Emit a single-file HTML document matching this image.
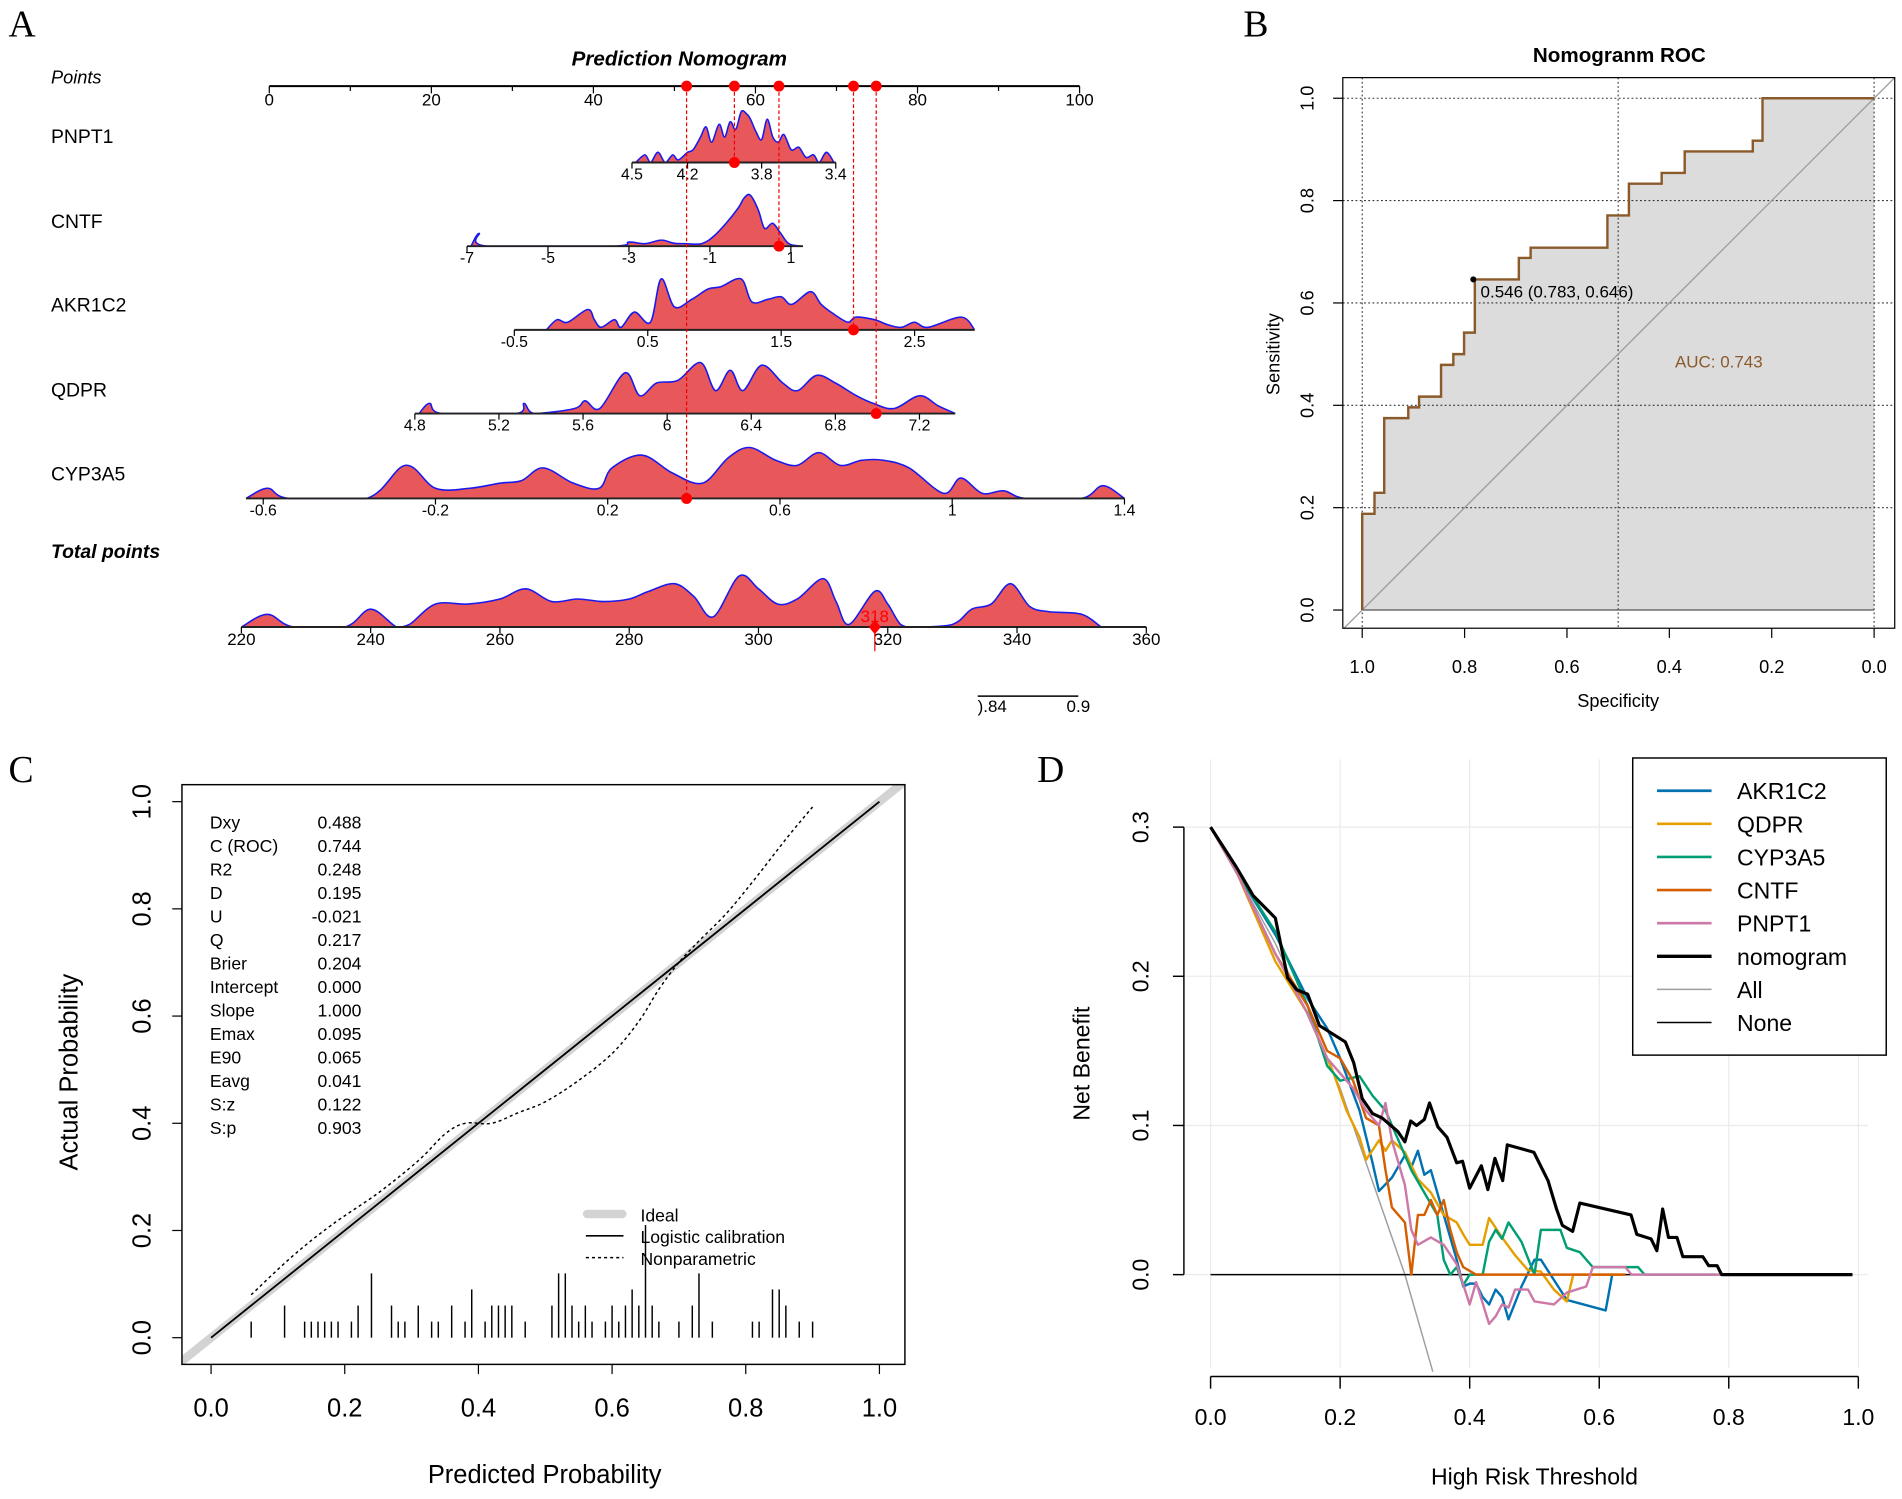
<!DOCTYPE html>
<html><head><meta charset="utf-8">
<style>
html,body{margin:0;padding:0;background:#fff;}
svg{display:block;}
text{font-family:"Liberation Sans",Arial,sans-serif;}
text.serif{font-family:"Liberation Serif","DejaVu Serif",serif;}
</style></head>
<body>
<svg id="fig" xmlns="http://www.w3.org/2000/svg" width="1902" height="1499" viewBox="0 0 1568 1236" preserveAspectRatio="none">
<defs>
<clipPath id="clipC"><rect x="150" y="647" width="596" height="478"/></clipPath>
<clipPath id="clipB"><rect x="1107" y="64" width="455" height="454"/></clipPath>
</defs>
<rect width="1568" height="1236" fill="#fff"/>
<g id="gA"></g>
<g id="gB"></g>
<g id="gC"></g>
<g id="gD"></g>
</svg>
<script>
// ---------- Panel A data ----------
const pointTicks = [0,10,20,30,40,50,60,70,80,90,100];
const pointLabels = [0,20,40,60,80,100];
const selectedPoints = [51.5,57.4,62.9,72.1,74.9];
const rowNames = ["PNPT1","CNTF","AKR1C2","QDPR","CYP3A5"];
const pnptTicks = [4.5,4.2,3.8,3.4];
const pnptX = [4.48,4.43,4.4,4.36,4.32,4.28,4.25,4.2,4.17,4.13,4.1,4.07,4.03,4.0,3.97,3.94,3.91,3.88,3.86,3.83,3.8,3.77,3.74,3.71,3.68,3.64,3.6,3.56,3.52,3.49,3.45,3.41];
const pnptY = [0,0.15,0,0.2,0,0.15,0.05,0.2,0.25,0.5,0.7,0.4,0.75,0.5,0.8,0.65,1.0,0.95,0.85,0.6,0.45,0.85,0.5,0.4,0.55,0.25,0.3,0.1,0.15,0,0.2,0];
const cntfTicks = [-7,-5,-3,-1,1];
const cntfX = [-6.9,-6.7,-6.5,-3.4,-3.0,-2.6,-2.2,-1.9,-1.6,-1.2,-0.9,-0.6,-0.3,-0.15,0.0,0.2,0.35,0.55,0.75,0.95,1.25];
const cntfY = [0,0.25,0,0,0.08,0.05,0.12,0.06,0.05,0.05,0.2,0.45,0.75,0.95,1.0,0.7,0.35,0.45,0.25,0.05,0];
const akrTicks = [-0.5,0.5,1.5,2.5];
const akrX = [-0.26,-0.18,-0.1,0.05,0.1,0.15,0.25,0.3,0.4,0.52,0.6,0.7,0.83,0.95,1.05,1.2,1.28,1.4,1.5,1.58,1.72,1.8,1.9,2.0,2.06,2.2,2.3,2.4,2.5,2.6,2.85,2.95];
const akrY = [0,0.2,0.15,0.4,0.2,0.05,0.2,0.05,0.35,0.15,1.0,0.45,0.6,0.8,0.85,1.0,0.55,0.6,0.65,0.5,0.75,0.5,0.3,0.15,0.25,0.2,0.1,0.05,0.15,0.05,0.25,0];
const qdprTicks = [4.8,5.2,5.6,6,6.4,6.8,7.2];
const qdprX = [4.82,4.87,4.93,5.28,5.32,5.37,5.56,5.61,5.68,5.8,5.87,5.95,6.05,6.16,6.23,6.3,6.36,6.45,6.55,6.62,6.71,6.8,6.9,6.98,7.08,7.2,7.29,7.37];
const qdprY = [0,0.2,0,0,0.2,0,0.1,0.25,0.1,0.8,0.35,0.6,0.65,1.0,0.45,0.85,0.45,0.95,0.6,0.45,0.75,0.6,0.35,0.2,0.1,0.35,0.15,0];
const cypTicks = [-0.6,-0.2,0.2,0.6,1,1.4];
const cypX = [-0.64,-0.59,-0.54,-0.36,-0.27,-0.2,-0.12,-0.05,0.0,0.05,0.12,0.18,0.21,0.28,0.35,0.42,0.48,0.53,0.59,0.64,0.69,0.74,0.79,0.84,0.9,0.98,1.02,1.07,1.12,1.17,1.3,1.35,1.4];
const cypY = [0,0.2,0,0,0.65,0.2,0.2,0.3,0.35,0.6,0.3,0.2,0.6,0.85,0.5,0.3,0.8,1.0,0.75,0.65,0.9,0.65,0.75,0.75,0.6,0.1,0.4,0.1,0.15,0,0,0.25,0];
const totalTicks = [220,240,260,280,300,320,340,360];
const totalX = [220,224,228,236,240,244,246,250,255,260,264,268,272,276,280,283,287,290,293,297,300,303,306,310,312,314,318,320,322,324,330,333,336,339,342,345,350,353];
const totalY = [0,0.25,0,0,0.35,0,0.05,0.45,0.45,0.55,0.75,0.5,0.55,0.5,0.55,0.7,0.85,0.6,0.2,1.0,0.75,0.45,0.55,0.95,0.5,0.05,0.7,0.45,0.05,0,0.05,0.35,0.45,0.85,0.4,0.3,0.25,0];
const totalScore = [318];
const probTicks = [0.84,0.9];

// ---------- Panel B data ----------
const rocSpec = [1.0,1.0,0.976,0.976,0.957,0.957,0.91,0.91,0.889,0.889,0.846,0.846,0.822,0.822,0.801,0.801,0.78,0.78,0.694,0.694,0.671,0.671,0.521,0.521,0.479,0.479,0.415,0.415,0.37,0.37,0.237,0.237,0.218,0.218,0.0];
const rocSens = [0.0,0.188,0.188,0.229,0.229,0.375,0.375,0.396,0.396,0.417,0.417,0.479,0.479,0.5,0.5,0.542,0.542,0.646,0.646,0.688,0.688,0.708,0.708,0.771,0.771,0.833,0.833,0.854,0.854,0.896,0.896,0.917,0.917,1.0,1.0];
const rocTicks = [0,0.2,0.4,0.6,0.8,1.0];
const bestPoint = [0.783,0.646];

// ---------- Panel C data ----------
const calTicks = [0,0.2,0.4,0.6,0.8,1.0];
const npX = [0.06,0.12,0.18,0.25,0.31,0.35,0.38,0.42,0.46,0.5,0.55,0.6,0.64,0.67,0.7,0.73,0.77,0.81,0.86,0.9];
const npY = [0.08,0.15,0.21,0.27,0.33,0.38,0.40,0.40,0.42,0.44,0.48,0.53,0.59,0.65,0.70,0.74,0.79,0.85,0.93,0.99];
const rugX = [0.06,0.11,0.14,0.15,0.16,0.17,0.18,0.19,0.21,0.22,0.24,0.27,0.28,0.29,0.31,0.33,0.34,0.36,0.38,0.39,0.41,0.42,0.43,0.44,0.45,0.47,0.51,0.52,0.53,0.54,0.55,0.56,0.57,0.59,0.6,0.61,0.62,0.63,0.64,0.65,0.66,0.67,0.7,0.72,0.73,0.75,0.81,0.82,0.84,0.85,0.86,0.88,0.9];
const rugH = [0.03,0.06,0.03,0.03,0.03,0.03,0.03,0.03,0.03,0.06,0.12,0.06,0.03,0.03,0.06,0.03,0.03,0.06,0.03,0.09,0.03,0.06,0.06,0.06,0.06,0.03,0.06,0.12,0.12,0.06,0.03,0.06,0.03,0.03,0.06,0.03,0.06,0.09,0.06,0.21,0.06,0.03,0.03,0.06,0.12,0.03,0.03,0.03,0.09,0.09,0.06,0.03,0.03];
const statNames = ["Dxy","C (ROC)","R2","D","U","Q","Brier","Intercept","Slope","Emax","E90","Eavg","S:z","S:p"];
const statVals = ["0.488","0.744","0.248","0.195","-0.021","0.217","0.204","0.000","1.000","0.095","0.065","0.041","0.122","0.903"];

// ---------- Panel D data ----------
const dcaXTicks = [0,0.2,0.4,0.6,0.8,1.0];
const dcaYTicks = [0,0.1,0.2,0.3];
const nomoT = [0,0.04,0.066,0.1,0.119,0.133,0.15,0.168,0.208,0.221,0.234,0.25,0.265,0.278,0.289,0.3,0.309,0.318,0.33,0.338,0.351,0.365,0.38,0.389,0.4,0.418,0.428,0.439,0.451,0.458,0.499,0.521,0.534,0.543,0.559,0.57,0.649,0.658,0.68,0.689,0.698,0.707,0.72,0.729,0.76,0.769,0.782,0.789,0.991];
const nomoNB = [0.3,0.273,0.254,0.239,0.199,0.191,0.188,0.167,0.156,0.142,0.118,0.108,0.105,0.1,0.096,0.089,0.103,0.1,0.104,0.115,0.099,0.092,0.075,0.076,0.058,0.073,0.057,0.078,0.063,0.087,0.082,0.063,0.044,0.033,0.029,0.048,0.04,0.027,0.024,0.016,0.044,0.025,0.025,0.012,0.012,0.006,0.006,0,0];
const akrT = [0,0.04,0.1,0.15,0.18,0.2,0.23,0.25,0.26,0.28,0.3,0.31,0.32,0.33,0.34,0.36,0.38,0.39,0.4,0.41,0.42,0.43,0.44,0.45,0.46,0.48,0.5,0.51,0.55,0.61,0.62];
const akrNB = [0.3,0.27,0.228,0.185,0.165,0.145,0.11,0.075,0.056,0.065,0.08,0.072,0.083,0.067,0.07,0.04,0.01,-0.008,-0.006,-0.006,-0.015,-0.02,-0.01,-0.015,-0.03,-0.008,0.01,0.01,-0.017,-0.024,0];
const qdprT = [0,0.04,0.1,0.15,0.19,0.21,0.23,0.24,0.26,0.27,0.28,0.3,0.32,0.34,0.36,0.38,0.39,0.4,0.42,0.43,0.45,0.47,0.49,0.51,0.53,0.55,0.56,0.64];
const qdprNB = [0.3,0.27,0.21,0.175,0.135,0.11,0.092,0.077,0.09,0.083,0.09,0.082,0.064,0.055,0.04,0.035,0.027,0.02,0.02,0.038,0.025,0.013,0.003,0.002,-0.01,-0.018,0,0];
const cypT = [0,0.04,0.1,0.15,0.18,0.2,0.23,0.25,0.27,0.29,0.31,0.33,0.35,0.36,0.37,0.38,0.39,0.4,0.42,0.43,0.44,0.45,0.46,0.48,0.5,0.51,0.54,0.55,0.57,0.59,0.63,0.66,0.67,0.78];
const cypNB = [0.3,0.27,0.23,0.18,0.14,0.13,0.133,0.12,0.11,0.09,0.07,0.055,0.04,0.01,0,0.005,-0.007,0,0,0.022,0.03,0.024,0.035,0.022,0,0.03,0.03,0.018,0.015,0.005,0.005,0.005,0,0];
const cntfT = [0,0.04,0.1,0.15,0.18,0.2,0.22,0.24,0.26,0.27,0.28,0.3,0.31,0.32,0.33,0.34,0.35,0.36,0.37,0.38,0.39,0.41,0.64];
const cntfNB = [0.3,0.27,0.215,0.18,0.15,0.145,0.13,0.105,0.1,0.07,0.045,0.035,0,0.04,0.04,0.05,0.04,0.05,0.03,0.015,0.005,0,0];
const pnptT = [0,0.04,0.1,0.15,0.18,0.2,0.22,0.24,0.26,0.27,0.28,0.3,0.31,0.32,0.34,0.36,0.38,0.4,0.41,0.43,0.44,0.45,0.46,0.47,0.49,0.5,0.53,0.55,0.58,0.59,0.64,0.65,0.79];
const pnptNB = [0.3,0.27,0.215,0.175,0.145,0.135,0.125,0.11,0.1,0.115,0.09,0.06,0.03,0.02,0.025,0.02,0.007,-0.02,-0.005,-0.033,-0.028,-0.02,-0.022,-0.01,-0.01,-0.018,-0.02,-0.012,-0.008,0.005,0.005,0,0];
const allT = [0,0.1,0.2,0.3,0.343];
const allNB = [0.3,0.222,0.125,0,-0.065];
const noneT = [0,0.99];
const noneNB = [0,0];
const legendNames = ["AKR1C2","QDPR","CYP3A5","CNTF","PNPT1","nomogram","All","None"];

// ---------- helpers ----------
const NS = "http://www.w3.org/2000/svg";
function mk(parent, tag, attrs, txt){
  const e = document.createElementNS(NS, tag);
  for (const k in attrs) e.setAttribute(k, attrs[k]);
  if (txt !== undefined) e.textContent = txt;
  parent.appendChild(e);
  return e;
}
function lin(d0,d1,r0,r1){ return v => r0 + (v-d0)*(r1-r0)/(d1-d0); }
function smoothPath(pts, maxY){
  const cl = y => (maxY!==undefined ? Math.min(y,maxY) : y);
  let d = "M"+pts[0][0].toFixed(1)+","+pts[0][1].toFixed(1);
  for (let i=0;i<pts.length-1;i++){
    const p0=pts[Math.max(0,i-1)], p1=pts[i], p2=pts[i+1], p3=pts[Math.min(pts.length-1,i+2)];
    const c1x=p1[0]+(p2[0]-p0[0])/6, c1y=cl(p1[1]+(p2[1]-p0[1])/6);
    const c2x=p2[0]-(p3[0]-p1[0])/6, c2y=cl(p2[1]-(p3[1]-p1[1])/6);
    d += " C"+c1x.toFixed(1)+","+c1y.toFixed(1)+" "+c2x.toFixed(1)+","+c2y.toFixed(1)+" "+p2[0].toFixed(1)+","+p2[1].toFixed(1);
  }
  return d;
}

// ================= PANEL A =================
const gA = document.getElementById("gA");
let t;
t = mk(gA,"text",{x:7,y:30,"font-size":31,"class":"serif"},"A");


t = mk(gA,"text",{x:560,y:54,"font-size":17,"font-weight":"bold","font-style":"italic","text-anchor":"middle"},"Prediction Nomogram");



const ptX = lin(0,100,222,890);
const axisY = 71;
t = mk(gA,"text",{x:42,y:69,"font-size":15,"font-style":"italic"},"Points");


let ln = mk(gA,"line",{x1:ptX(0),x2:ptX(100),y1:axisY,y2:axisY,stroke:"#000","stroke-width":1.6});


pointTicks.forEach(v=>{
  const e = mk(gA,"line",{x1:ptX(v),x2:ptX(v),y1:axisY,y2:axisY+(pointLabels.includes(v)?6:4),stroke:"#000","stroke-width":1});
  
  
});
pointLabels.forEach(v=>{
  const e = mk(gA,"text",{x:ptX(v),y:axisY+16,"font-size":14,"text-anchor":"middle"},String(v));
  
  
});

const rows = [
  {name:"PNPT1", ty:112, base:134, ticks:pnptTicks, xs:pnptX, ys:pnptY, d0:4.5, d1:3.4, r0:521, r1:689, a0:4.5, a1:3.4},
  {name:"CNTF", ty:182, base:203, ticks:cntfTicks, xs:cntfX, ys:cntfY, d0:-7, d1:1, r0:385, r1:652, a0:-7, a1:1.3},
  {name:"AKR1C2", ty:251, base:272, ticks:akrTicks, xs:akrX, ys:akrY, d0:-0.5, d1:2.5, r0:424, r1:754, a0:-0.5, a1:2.95},
  {name:"QDPR", ty:321, base:341, ticks:qdprTicks, xs:qdprX, ys:qdprY, d0:4.8, d1:7.2, r0:342, r1:758, a0:4.8, a1:7.37},
  {name:"CYP3A5", ty:390, base:411, ticks:cypTicks, xs:cypX, ys:cypY, d0:-0.6, d1:1.4, r0:217, r1:927, a0:-0.64, a1:1.4},
];
const peakH = 42;
function drawDensity(g, xs, ys, sx, base, nm){
  const pts = xs.map((v,i)=>[sx(v), base - ys[i]*peakH]);
  const curve = smoothPath(pts, base);
  let d = curve + " L"+pts[pts.length-1][0]+","+base+" L"+pts[0][0]+","+base+" Z";
  const p = mk(g,"path",{d:d,fill:"#E8575A",stroke:"none"});
  
  
  const o = mk(g,"path",{d:curve,fill:"none",stroke:"#1a1aee","stroke-width":1.3});
  
  
}
rows.forEach(r=>{
  const sx = lin(r.d0,r.d1,r.r0,r.r1);
  let e = mk(gA,"text",{x:42,y:r.ty+6,"font-size":16},r.name);
  
  
  drawDensity(gA, r.xs, r.ys, sx, r.base, r.name.toLowerCase());
  e = mk(gA,"line",{x1:sx(r.a0),x2:sx(r.a1),y1:r.base,y2:r.base,stroke:"#222","stroke-width":1.6});
  
  
  r.ticks.forEach(v=>{
    const tk = mk(gA,"line",{x1:sx(v),x2:sx(v),y1:r.base,y2:r.base+5,stroke:"#000","stroke-width":1});
    
    
    const tl = mk(gA,"text",{x:sx(v),y:r.base+14,"font-size":13,"text-anchor":"middle"},String(v));
    
    
  });
});
const rowDotPt = [selectedPoints[1], selectedPoints[2], selectedPoints[3], selectedPoints[4], selectedPoints[0]];
rows.forEach((r,i)=>{
  const x = ptX(rowDotPt[i]);
  let e = mk(gA,"line",{x1:x,x2:x,y1:axisY,y2:r.base,stroke:"#e00","stroke-width":1,"stroke-dasharray":"3,2"});
  
  
  e = mk(gA,"circle",{cx:x,cy:r.base,r:4.5,fill:"#f00"});
  
  
});
selectedPoints.forEach(v=>{
  const e = mk(gA,"circle",{cx:ptX(v),cy:axisY,r:4.5,fill:"#f00"});
  
  
});
t = mk(gA,"text",{x:42,y:460,"font-size":16,"font-weight":"bold","font-style":"italic"},"Total points");


const tx = lin(220,360,199,945);
const tBase = 517;
drawDensity(gA, totalX, totalY, tx, tBase, 'total-points');
ln = mk(gA,"line",{x1:tx(220),x2:tx(360),y1:tBase,y2:tBase,stroke:"#222","stroke-width":1.6});


totalTicks.forEach(v=>{
  const tk = mk(gA,"line",{x1:tx(v),x2:tx(v),y1:tBase,y2:tBase+5,stroke:"#000","stroke-width":1});
  
  
  const tl = mk(gA,"text",{x:tx(v),y:tBase+15,"font-size":14,"text-anchor":"middle"},String(v));
  
  
});
totalScore.forEach(v=>{
  const x = tx(v);
  let e = mk(gA,"line",{x1:x,x2:x,y1:tBase-8,y2:537,stroke:"#e00","stroke-width":1});
  
  
  e = mk(gA,"path",{d:`M${x},${tBase-6} L${x+5},${tBase} L${x},${tBase+6} L${x-5},${tBase} Z`,fill:"#f00"});
  
  
  e = mk(gA,"text",{x:x,y:tBase-4,"font-size":14,fill:"#f00","text-anchor":"middle"},String(v));
  
  
});
const prX = lin(0.84,0.9,806,889);
ln = mk(gA,"line",{x1:prX(0.84),x2:prX(0.9),y1:574,y2:574,stroke:"#000","stroke-width":1.2});


probTicks.forEach((v,i)=>{
  const tl = mk(gA,"text",{x:prX(v)+(i==0?12:0),y:587,"font-size":14,"text-anchor":"middle"},i==0?").84":String(v));
  
  
});

// ================= PANEL B =================
const gB = document.getElementById("gB");
const bx = lin(1,0,1123,1545), by = lin(0,1,503,81);
t = mk(gB,"text",{x:1025,y:30,"font-size":31,"class":"serif"},"B");


t = mk(gB,"text",{x:1335,y:51,"font-size":17,"font-weight":"bold","text-anchor":"middle"},"Nomogranm ROC");


let polyPts = rocSpec.map((s,i)=>bx(s)+","+by(rocSens[i])).join(" ");
polyPts += " "+bx(0)+","+by(0)+" "+bx(1)+","+by(0);
let e = mk(gB,"polygon",{points:polyPts,fill:"#dcdcdc"});


rocTicks.forEach(v=>{
  if (v===0) return;
  const g1 = mk(gB,"line",{x1:1107,x2:1562,y1:by(v),y2:by(v),stroke:"#333","stroke-width":0.9,"stroke-dasharray":"1.5,2"});
  
  
});
[1,0.5,0].forEach(v=>{
  const g1 = mk(gB,"line",{x1:bx(v),x2:bx(v),y1:64,y2:518,stroke:"#333","stroke-width":0.9,"stroke-dasharray":"1.5,2"});
  
  
});
e = mk(gB,"line",{x1:bx(1),x2:bx(0),y1:by(0),y2:by(0),stroke:"#555","stroke-width":1});


e = mk(gB,"line",{x1:bx(1.04),x2:bx(-0.04),y1:by(-0.04),y2:by(1.04),stroke:"#999","stroke-width":1,"clip-path":"url(#clipB)"});


e = mk(gB,"polyline",{points:rocSpec.map((s,i)=>bx(s)+","+by(rocSens[i])).join(" "),fill:"none",stroke:"#8B5A2B","stroke-width":2});


e = mk(gB,"rect",{x:1107,y:64,width:455,height:454,fill:"none",stroke:"#000","stroke-width":1});


e = mk(gB,"circle",{cx:bx(bestPoint[0]),cy:by(bestPoint[1]),r:2.5,fill:"#000"});


e = mk(gB,"text",{x:bx(bestPoint[0])+6,y:by(bestPoint[1])+15,"font-size":14},"0.546 (0.783, 0.646)");


e = mk(gB,"text",{x:1417,y:303,"font-size":14,fill:"#8B5A2B","text-anchor":"middle"},"AUC: 0.743");


rocTicks.forEach(v=>{
  let k = mk(gB,"line",{x1:bx(v),x2:bx(v),y1:518,y2:526,stroke:"#000"});
  
  
  k = mk(gB,"text",{x:bx(v),y:555,"font-size":15,"text-anchor":"middle"},v.toFixed(1));
  
  
  k = mk(gB,"line",{x1:1107,x2:1099,y1:by(v),y2:by(v),stroke:"#000"});
  
  
  k = mk(gB,"text",{x:0,y:0,"font-size":15,"text-anchor":"middle",transform:`translate(1083,${by(v)}) rotate(-90)`},v.toFixed(1));
  
  
});
e = mk(gB,"text",{x:1334,y:583,"font-size":15,"text-anchor":"middle"},"Specificity");


e = mk(gB,"text",{x:0,y:0,"font-size":15,"text-anchor":"middle",transform:"translate(1055,292) rotate(-90)"},"Sensitivity");



// ================= PANEL C =================
const gC = document.getElementById("gC");
const cx = lin(0,1,174,725), cy = lin(0,1,1103,661);
t = mk(gC,"text",{x:7,y:645,"font-size":31,"class":"serif"},"C");


e = mk(gC,"line",{x1:cx(-0.1),y1:cy(-0.1),x2:cx(1.1),y2:cy(1.1),stroke:"#d3d3d3","stroke-width":7,"clip-path":"url(#clipC)"});


e = mk(gC,"line",{x1:cx(0),y1:cy(0),x2:cx(1),y2:cy(1),stroke:"#000","stroke-width":1.5});


e = mk(gC,"path",{d:smoothPath(npX.map((v,i)=>[cx(v),cy(npY[i])])),fill:"none",stroke:"#000","stroke-width":1.2,"stroke-dasharray":"2.5,2.5"});


rugX.forEach((v,i)=>{
  const r = mk(gC,"line",{x1:cx(v),x2:cx(v),y1:cy(0),y2:cy(rugH[i]),stroke:"#000","stroke-width":1.2});
  
  
});
e = mk(gC,"rect",{x:150,y:647,width:596,height:478,fill:"none",stroke:"#000","stroke-width":1.2});


statNames.forEach((n,i)=>{
  let s = mk(gC,"text",{x:173,y:683+i*19.4,"font-size":14.5},n);
  
  
  s = mk(gC,"text",{x:298,y:683+i*19.4,"font-size":14.5,"text-anchor":"end"},statVals[i]);
  
  
});
e = mk(gC,"line",{x1:484,x2:513,y1:1001,y2:1001,stroke:"#d3d3d3","stroke-width":7,"stroke-linecap":"round"});


e = mk(gC,"line",{x1:483,x2:514,y1:1019,y2:1019,stroke:"#000","stroke-width":1.3});


e = mk(gC,"line",{x1:483,x2:514,y1:1037,y2:1037,stroke:"#000","stroke-width":1.2,"stroke-dasharray":"2.5,2.5"});


[["Ideal",1007],["Logistic calibration",1025],["Nonparametric",1043]].forEach(a=>{
  const s = mk(gC,"text",{x:528,y:a[1],"font-size":14.5},a[0]);
  
  
});
calTicks.forEach(v=>{
  let k = mk(gC,"line",{x1:cx(v),x2:cx(v),y1:1125,y2:1133,stroke:"#000"});
  
  
  k = mk(gC,"text",{x:cx(v),y:1168,"font-size":21,"text-anchor":"middle"},v.toFixed(1));
  
  
  k = mk(gC,"line",{x1:150,x2:142,y1:cy(v),y2:cy(v),stroke:"#000"});
  
  
  k = mk(gC,"text",{x:0,y:0,"font-size":21,"text-anchor":"middle",transform:`translate(124,${cy(v)}) rotate(-90)`},v.toFixed(1));
  
  
});
e = mk(gC,"text",{x:449,y:1223,"font-size":21,"text-anchor":"middle"},"Predicted Probability");


e = mk(gC,"text",{x:0,y:0,"font-size":21,"text-anchor":"middle",transform:"translate(64,884) rotate(-90)"},"Actual Probability");



// ================= PANEL D =================
const gD = document.getElementById("gD");
const dx = lin(0,1,998,1532), dy = lin(0,0.3,1051,682);
t = mk(gD,"text",{x:855,y:645,"font-size":31,"class":"serif"},"D");


dcaXTicks.forEach(v=>{
  const g1 = mk(gD,"line",{x1:dx(v),x2:dx(v),y1:626,y2:1128,stroke:"#ebebeb","stroke-width":1});
  
  
});
dcaYTicks.forEach(v=>{
  const g1 = mk(gD,"line",{x1:977,x2:1540,y1:dy(v),y2:dy(v),stroke:"#ebebeb","stroke-width":1});
  
  
});
const series = [
  {n:"all",t:allT,v:allNB,c:"#9e9e9e",w:1.2},
  {n:"none",t:noneT,v:noneNB,c:"#000",w:1.2},
  {n:"akr1c2",t:akrT,v:akrNB,c:"#0072B2",w:2},
  {n:"qdpr",t:qdprT,v:qdprNB,c:"#E69F00",w:2},
  {n:"cyp3a5",t:cypT,v:cypNB,c:"#009E73",w:2},
  {n:"cntf",t:cntfT,v:cntfNB,c:"#D55E00",w:2},
  {n:"pnpt1",t:pnptT,v:pnptNB,c:"#CC79A7",w:2},
  {n:"nomogram",t:nomoT,v:nomoNB,c:"#000",w:2.6},
];
series.forEach(s=>{
  const p = mk(gD,"polyline",{points:s.t.map((x,i)=>dx(x).toFixed(1)+","+dy(s.v[i]).toFixed(1)).join(" "),fill:"none",stroke:s.c,"stroke-width":s.w,"stroke-linejoin":"round"});
  
  
});
e = mk(gD,"line",{x1:976,x2:976,y1:dy(0.3),y2:dy(0),stroke:"#000","stroke-width":1.2});


e = mk(gD,"line",{x1:dx(0),x2:dx(1),y1:1135,y2:1135,stroke:"#000","stroke-width":1.2});


dcaXTicks.forEach(v=>{
  let k = mk(gD,"line",{x1:dx(v),x2:dx(v),y1:1135,y2:1145,stroke:"#000","stroke-width":1.2});
  
  
  k = mk(gD,"text",{x:dx(v),y:1175,"font-size":19,"text-anchor":"middle"},v.toFixed(1));
  
  
});
dcaYTicks.forEach(v=>{
  let k = mk(gD,"line",{x1:976,x2:967,y1:dy(v),y2:dy(v),stroke:"#000","stroke-width":1.2});
  
  
  k = mk(gD,"text",{x:0,y:0,"font-size":19,"text-anchor":"middle",transform:`translate(947,${dy(v)}) rotate(-90)`},v.toFixed(1));
  
  
});
e = mk(gD,"text",{x:1265,y:1224,"font-size":19,"text-anchor":"middle"},"High Risk Threshold");


e = mk(gD,"text",{x:0,y:0,"font-size":19,"text-anchor":"middle",transform:"translate(898,877) rotate(-90)"},"Net Benefit");


e = mk(gD,"rect",{x:1346,y:625,width:209,height:245,fill:"#fff",stroke:"#000","stroke-width":1.2});


const legendColors = ["#0072B2","#E69F00","#009E73","#D55E00","#CC79A7","#000","#9e9e9e","#000"];
const legendWidths = [2.2,2.2,2.2,2.2,2.2,2.8,1.2,1.2];
legendNames.forEach((n,i)=>{
  const yy = 652 + i*27.3;
  let k = mk(gD,"line",{x1:1366,x2:1411,y1:yy,y2:yy,stroke:legendColors[i],"stroke-width":legendWidths[i]});
  
  
  k = mk(gD,"text",{x:1432,y:yy+7,"font-size":19},n);
  
  
});
</script>
</body></html>
